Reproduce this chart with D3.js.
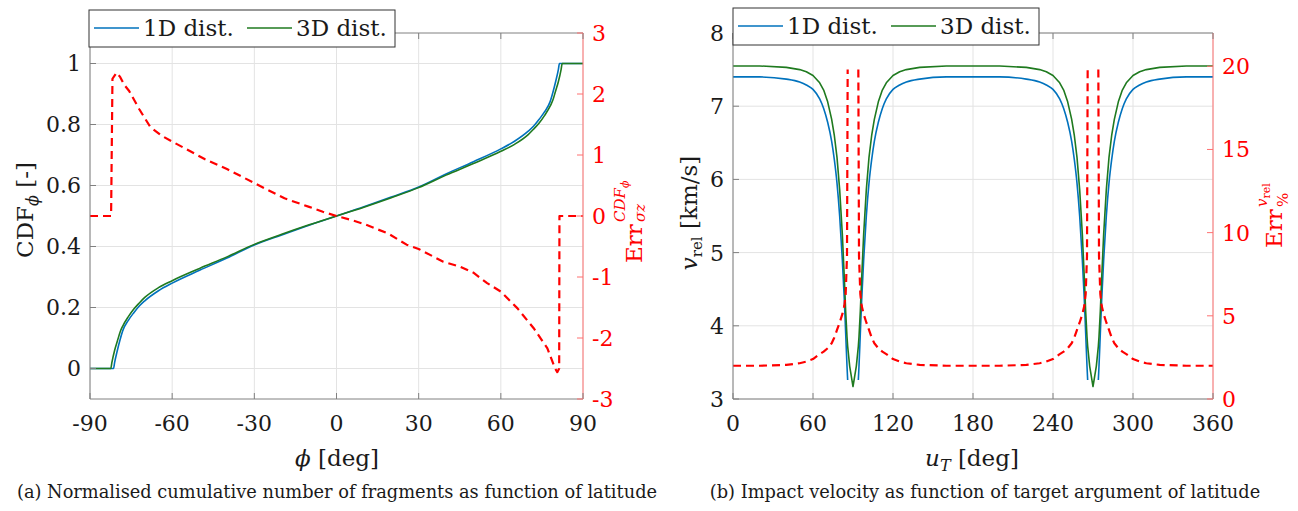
<!DOCTYPE html>
<html><head><meta charset="utf-8">
<script src="https://cdn.jsdelivr.net/npm/d3@7"></script>
<style>
body{margin:0;background:#fff;}
text{font-family:"DejaVu Serif",serif;}
</style></head><body>
<svg id="chart" width="1298" height="511"></svg>
<script>
// ---------- DATA: panel (a) ----------
const phiTicks = [-90,-60,-30,0,30,60,90];
const cdfTicks = [0,0.2,0.4,0.6,0.8,1];
const cdfTickLabels = ["0","0.2","0.4","0.6","0.8","1"];
const errCdfTicks = [-3,-2,-1,0,1,2,3];
const errCdfTickLabels = ["-3","-2","-1","0","1","2","3"];

const phi1D = [-90,-81.4,-81,-80,-79,-78,-76,-74,-72,-70,-65,-60,-50,-40,-30,-20,-10,0,10,20,30,40,50,60,65,70,72,74,76,78,79,80,81,81.4,90];
const cdf1D = [0,0,0.02,0.06,0.095,0.125,0.158,0.183,0.205,0.222,0.255,0.28,0.322,0.362,0.405,0.438,0.47,0.5,0.53,0.562,0.595,0.638,0.678,0.72,0.745,0.778,0.795,0.817,0.842,0.875,0.905,0.94,0.98,1,1];

const phi3D = [-90,-82.4,-82,-81,-80,-79,-78,-76,-74,-72,-70,-65,-60,-50,-40,-30,-20,-10,0,10,20,30,40,50,60,65,70,72,74,76,78,79,80,81,82,82.4,90];
const cdf3D = [0,0,0.02,0.06,0.09,0.12,0.14,0.17,0.195,0.215,0.233,0.265,0.288,0.328,0.366,0.407,0.44,0.471,0.5,0.529,0.56,0.593,0.634,0.672,0.712,0.735,0.767,0.785,0.805,0.83,0.86,0.88,0.91,0.94,0.98,1,1];

const phiErr = [-90,-82.3,-81.8,-80.3,-79,-77.5,-75.7,-72,-68,-64,-60,-55,-48,-40,-30,-19,-10,-5,0,5,10,19,25.6,30,39,45,50,55,60,66,72,77,79.8,80.6,81.3,81.4,90];
const errCdf = [0,0,2.25,2.35,2.28,2.15,2.05,1.75,1.46,1.32,1.22,1.1,0.93,0.77,0.54,0.29,0.15,0.07,0,-0.06,-0.13,-0.29,-0.47,-0.54,-0.75,-0.83,-0.93,-1.1,-1.24,-1.51,-1.84,-2.17,-2.5,-2.56,-2.5,0,0];

// ---------- DATA: panel (b) ----------
const uTicks = [0,60,120,180,240,300,360];
const vTicks = [3,4,5,6,7,8];
const errVTicks = [0,5,10,15,20];

const uGrid = [0,20,40,50,55,60,65,68,71,74,76,78,80,82,83.5,84.5,85.5,86,87.5,90,92.5,94,94.5,95.5,96.5,98,100,102,104,106,109,112,115,120,125,130,140,160,180,
  200,220,230,235,240,245,248,251,254,256,258,260,262,263.5,264.5,265.5,266,267.5,270,272.5,274,274.5,275.5,276.5,278,280,282,284,286,289,292,295,300,305,310,320,340,360];
const vrel1D = [7.40,7.40,7.37,7.33,7.29,7.23,7.10,6.97,6.78,6.52,6.27,5.95,5.50,4.90,4.35,3.90,3.45,3.26,null,null,null,3.26,3.45,3.90,4.35,4.90,5.50,5.95,6.27,6.52,6.78,6.97,7.10,7.23,7.29,7.33,7.37,7.40,7.40,
  7.40,7.37,7.33,7.29,7.23,7.10,6.97,6.78,6.52,6.27,5.95,5.50,4.90,4.35,3.90,3.45,3.26,null,null,null,3.26,3.45,3.90,4.35,4.90,5.50,5.95,6.27,6.52,6.78,6.97,7.10,7.23,7.29,7.33,7.37,7.40,7.40];
const vrel3D = [7.55,7.55,7.53,7.50,7.47,7.42,7.32,7.22,7.06,6.82,6.60,6.30,5.86,5.25,4.65,4.20,3.85,3.72,3.45,3.17,3.45,3.72,3.85,4.20,4.65,5.25,5.86,6.30,6.60,6.82,7.06,7.22,7.32,7.42,7.47,7.50,7.53,7.55,7.55,
  7.55,7.53,7.50,7.47,7.42,7.32,7.22,7.06,6.82,6.60,6.30,5.86,5.25,4.65,4.20,3.85,3.72,3.45,3.17,3.45,3.72,3.85,4.20,4.65,5.25,5.86,6.30,6.60,6.82,7.06,7.22,7.32,7.42,7.47,7.50,7.53,7.55,7.55];
const errV = [2.00,2.00,2.05,2.15,2.25,2.40,2.70,2.85,3.05,3.35,3.70,4.15,4.60,5.10,5.60,6.30,8.60,19.8,null,null,null,19.8,8.60,6.30,5.60,5.10,4.60,4.15,3.70,3.35,3.05,2.85,2.70,2.40,2.25,2.15,2.05,2.00,2.00,
  2.00,2.05,2.15,2.25,2.40,2.70,2.85,3.05,3.35,3.70,4.15,4.60,5.10,5.60,6.30,8.60,19.8,null,null,null,19.8,8.60,6.30,5.60,5.10,4.60,4.15,3.70,3.35,3.05,2.85,2.70,2.40,2.25,2.15,2.05,2.00,2.00];

const seriesNames = ["1D dist.","3D dist."];
const captionA = "(a) Normalised cumulative number of fragments as function of latitude";
const captionB = "(b) Impact velocity as function of target argument of latitude";

// ---------- STYLE ----------
const BLUE = "#0072BD", GREEN = "#1f7a1f", RED = "#ff0000";
const AXIS = "#808080", RAXIS = "#ff7070", GRID = "#e3e3e3", TXT = "#1a1a1a";
const TICKF = 22, LABF = 23, LEGF = 23, CAPF = 17.8;

const svg = d3.select("#chart");

function panel(o){
  const g = svg.append("g");
  const {x, yL, yR} = o;
  const [x0,x1] = x.range(); const [y1,y0] = yL.range();
  const id = "clip"+o.key;
  svg.append("clipPath").attr("id",id).append("rect").attr("x",x0).attr("y",y0).attr("width",x1-x0).attr("height",y1-y0);
  g.selectAll(".gx").data(o.xTicks).join("line").attr("x1",d=>x(d)).attr("x2",d=>x(d)).attr("y1",y0).attr("y2",y1).attr("stroke",GRID).attr("stroke-width",1);
  g.selectAll(".gy").data(o.yTicks).join("line").attr("y1",d=>yL(d)).attr("y2",d=>yL(d)).attr("x1",x0).attr("x2",x1).attr("stroke",GRID).attr("stroke-width",1);
  const lg = g.append("g").attr("clip-path",`url(#${id})`);
  o.lines.forEach(L=>{
    const data = L.xs.map((v,i)=>[v,L.ys[i]]);
    const sc = L.right ? yR : yL;
    lg.append("path").datum(data)
      .attr("d", d3.line().defined(d=>d[1]!==null).curve(L.smooth?d3.curveMonotoneX:d3.curveLinear).x(d=>x(d[0])).y(d=>sc(d[1])))
      .attr("fill","none").attr("stroke",L.color).attr("stroke-width",L.w)
      .attr("stroke-dasharray",L.dash||null).attr("stroke-linejoin","round");
  });
  const tl = 6;
  const ax = g.append("g");
  ax.append("line").attr("x1",x0).attr("x2",x1).attr("y1",y1).attr("y2",y1).attr("stroke",AXIS);
  ax.append("line").attr("x1",x0).attr("x2",x1).attr("y1",y0).attr("y2",y0).attr("stroke",AXIS);
  ax.append("line").attr("x1",x0).attr("x2",x0).attr("y1",y0).attr("y2",y1).attr("stroke",AXIS);
  ax.append("line").attr("x1",x1).attr("x2",x1).attr("y1",y0).attr("y2",y1).attr("stroke",RAXIS);
  o.xTicks.forEach(t=>{
    ax.append("line").attr("x1",x(t)).attr("x2",x(t)).attr("y1",y1).attr("y2",y1-tl).attr("stroke",AXIS);
    ax.append("line").attr("x1",x(t)).attr("x2",x(t)).attr("y1",y0).attr("y2",y0+tl).attr("stroke",AXIS);
    ax.append("text").attr("x",x(t)).attr("y",y1+32).attr("text-anchor","middle").attr("font-size",TICKF).attr("fill",TXT).text(o.xFmt(t));
  });
  o.yTicks.forEach((t,i)=>{
    ax.append("line").attr("x1",x0).attr("x2",x0+tl).attr("y1",yL(t)).attr("y2",yL(t)).attr("stroke",AXIS);
    ax.append("text").attr("x",x0-9).attr("y",yL(t)).attr("dy","0.36em").attr("text-anchor","end").attr("font-size",TICKF).attr("fill",TXT).text(o.yFmt(t,i));
  });
  o.rTicks.forEach((t,i)=>{
    ax.append("line").attr("x1",x1).attr("x2",x1-tl).attr("y1",yR(t)).attr("y2",yR(t)).attr("stroke",RAXIS);
    ax.append("text").attr("x",x1+9).attr("y",yR(t)).attr("dy","0.36em").attr("text-anchor","start").attr("font-size",TICKF).attr("fill",RED).text(o.rFmt(t,i));
  });
  const lx = o.legX, ly = o.legY;
  const leg = g.append("g");
  leg.append("rect").attr("x",lx).attr("y",ly).attr("width",306).attr("height",37).attr("fill","#fff").attr("stroke","#333").attr("stroke-width",1);
  [[0,BLUE],[1,GREEN]].forEach(([i,c])=>{
    const ox = lx + (i===0?5:158);
    leg.append("line").attr("x1",ox).attr("x2",ox+45).attr("y1",ly+18).attr("y2",ly+18).attr("stroke",c).attr("stroke-width",1.6);
    leg.append("text").attr("x",ox+49).attr("y",ly+26).attr("font-size",LEGF).attr("fill",TXT).text(seriesNames[i]);
  });
  return g;
}

const xA = d3.scaleLinear().domain([-90,90]).range([90,583]);
const yA = d3.scaleLinear().domain([-0.1,1.1]).range([399,33]);
const yAR = d3.scaleLinear().domain([-3,3]).range([399,33]);
panel({key:"a", x:xA, yL:yA, yR:yAR, xTicks:phiTicks, yTicks:cdfTicks, rTicks:errCdfTicks,
  xFmt:t=>String(t), yFmt:(t,i)=>cdfTickLabels[i], rFmt:(t,i)=>errCdfTickLabels[i],
  legX:89, legY:10,
  lines:[
    {xs:phi1D, ys:cdf1D, color:BLUE, w:1.6, smooth:true},
    {xs:phi3D, ys:cdf3D, color:GREEN, w:1.6, smooth:true},
    {xs:phiErr, ys:errCdf, color:RED, w:2.2, dash:"8,5", right:true}
  ]});

const xB = d3.scaleLinear().domain([0,360]).range([733,1213]);
const yB = d3.scaleLinear().domain([3,8]).range([399,33]);
const yBR = d3.scaleLinear().domain([0,22]).range([399,33]);
panel({key:"b", x:xB, yL:yB, yR:yBR, xTicks:uTicks, yTicks:vTicks, rTicks:errVTicks,
  xFmt:t=>String(t), yFmt:t=>String(t), rFmt:t=>String(t),
  legX:733, legY:8,
  lines:[
    {xs:uGrid, ys:vrel1D, color:BLUE, w:1.6, smooth:true},
    {xs:uGrid, ys:vrel3D, color:GREEN, w:1.6},
    {xs:uGrid, ys:errV, color:RED, w:2.2, dash:"8,5", right:true}
  ]});

function xlabel(cx, parts){
  const t = svg.append("text").attr("x",cx).attr("y",466).attr("text-anchor","middle").attr("font-size",LABF).attr("fill",TXT);
  parts(t);
}
xlabel(337, t=>{ t.append("tspan").attr("font-style","italic").text("ϕ"); t.append("tspan").text(" [deg]"); });
xlabel(972, t=>{ t.append("tspan").attr("font-style","italic").text("u");
  t.append("tspan").attr("font-style","italic").attr("font-size",16).attr("dy",5).text("T");
  t.append("tspan").attr("dy",-5).text(" [deg]"); });

{
  const t = svg.append("text").attr("transform","translate(33,210) rotate(-90)").attr("text-anchor","middle").attr("font-size",LABF).attr("fill",TXT);
  t.append("tspan").text("CDF");
  t.append("tspan").attr("font-style","italic").attr("font-size",16).attr("dy",5).text("ϕ");
  t.append("tspan").attr("dy",-5).text(" [-]");
}
{
  const g = svg.append("g").attr("transform","translate(642,263) rotate(-90)").attr("fill",RED);
  g.append("text").attr("x",0).attr("y",0).attr("font-size",LABF).text("Err");
  const s = g.append("text").attr("x",41).attr("y",-17).attr("font-size",15).attr("font-style","italic");
  s.append("tspan").text("CDF");
  s.append("tspan").attr("font-size",11).attr("dy",4).text("ϕ");
  g.append("text").attr("x",41).attr("y",3).attr("font-size",15).attr("font-style","italic").text("σz");
}
{
  const t = svg.append("text").attr("transform","translate(697,213) rotate(-90)").attr("text-anchor","middle").attr("font-size",LABF).attr("fill",TXT);
  t.append("tspan").attr("font-style","italic").text("v");
  t.append("tspan").attr("font-size",15).attr("dy",5).text("rel");
  t.append("tspan").attr("dy",-5).text(" [km/s]");
}
{
  const g = svg.append("g").attr("transform","translate(1282,248) rotate(-90)").attr("fill",RED);
  g.append("text").attr("x",0).attr("y",0).attr("font-size",LABF).text("Err");
  const s = g.append("text").attr("x",41).attr("y",-15).attr("font-size",15);
  s.append("tspan").attr("font-style","italic").text("v");
  s.append("tspan").attr("font-size",11).attr("dy",3).text("rel");
  g.append("text").attr("x",41).attr("y",6).attr("font-size",15).text("%");
}

svg.append("text").attr("x",337).attr("y",498).attr("text-anchor","middle").attr("font-size",CAPF).attr("fill",TXT).text(captionA);
svg.append("text").attr("x",985).attr("y",498).attr("text-anchor","middle").attr("font-size",CAPF).attr("fill",TXT).text(captionB);
</script>
</body></html>
